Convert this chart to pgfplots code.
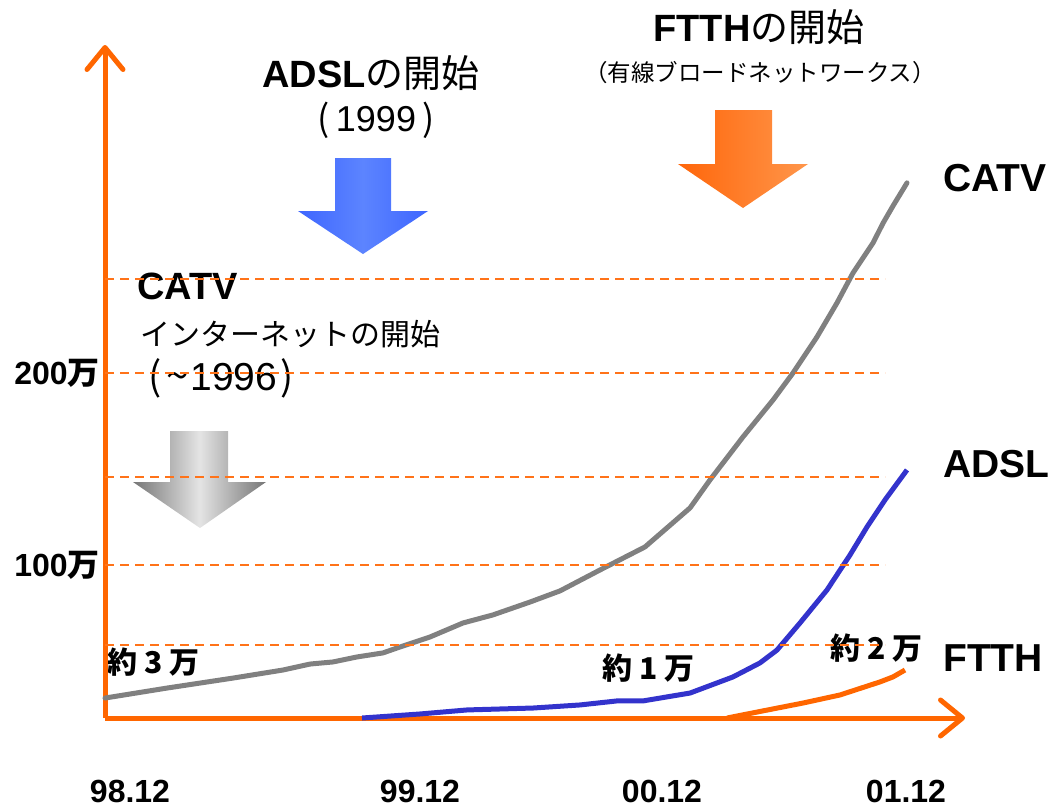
\documentclass[border=0pt]{standalone}
\usepackage{pgfplots}
\pgfplotsset{compat=1.18}
\usepackage{fontspec}
\setmainfont{Liberation Sans}
\newfontfamily\jp{Noto Sans CJK JP}
\usetikzlibrary{arrows.meta}
\definecolor{axorange}{RGB}{255,102,0}
\definecolor{dashorange}{RGB}{255,115,25}
\definecolor{catvgray}{RGB}{128,128,128}
\definecolor{adslblue}{RGB}{51,51,204}
\definecolor{blueedge}{RGB}{62,102,255}
\definecolor{bluemid}{RGB}{92,132,255}
\definecolor{orangeleft}{RGB}{255,102,10}
\definecolor{orangeright}{RGB}{255,150,75}
\definecolor{grayedge}{RGB}{118,118,118}
\definecolor{graymid}{RGB}{228,228,228}
\newcommand{\fs}[1]{\fontsize{#1}{#1}\selectfont}
\begin{document}
\begin{tikzpicture}
\begin{scope}[x=1pt,y=-1pt]
\path (0,0) rectangle (1055,807);
% block arrows
\shade[left color=blueedge, right color=blueedge, middle color=bluemid]
  (335,158) -- (391,158) -- (391,211) -- (428,211) -- (363,254) -- (298,211) -- (335,211) -- cycle;
\shade[left color=orangeleft, right color=orangeright]
  (715,110) -- (772,110) -- (772,164) -- (808,164) -- (743,208) -- (678,164) -- (715,164) -- cycle;
\shade[left color=grayedge, right color=grayedge, middle color=graymid]
  (170,431) -- (228,431) -- (228,482) -- (266,482) -- (200,528) -- (133,482) -- (170,482) -- cycle;
% titles
\node[anchor=center, inner sep=0pt] at (376,120) {\fs{36}{\jp (}\hspace{6pt}1999\hspace{6pt}{\jp )}};
\node[anchor=center, inner sep=0pt] at (371,73) {\fs{38}\bfseries ADSL{\jp\mdseries の開始}};
\node[anchor=center, inner sep=0pt] at (759,27) {\fs{38}\bfseries FTTH{\jp\mdseries の開始}};
\node[anchor=center, inner sep=0pt] at (760,73) {\fs{23.5}\jp （有線ブロードネットワークス）};
\node[anchor=west, inner sep=0pt] at (137,286) {\fs{38}\bfseries CATV};
\node[anchor=west, inner sep=0pt] at (140,334) {\fs{30}\jp インターネットの開始};
\node[anchor=west, inner sep=0pt] at (148,378) {\fs{39}{\jp (}\hspace{5pt}{\jp\fs{40}\char"7E}\hspace{2pt}1996\hspace{3pt}{\jp )}};
% series labels
\node[anchor=west, inner sep=0pt] at (943,178) {\fs{39}\bfseries CATV};
\node[anchor=west, inner sep=0pt] at (943,464) {\fs{39}\bfseries ADSL};
\node[anchor=west, inner sep=0pt] at (943,658) {\fs{39}\bfseries FTTH};
\node[anchor=west, inner sep=0pt] at (107,662) {\fs{30}\jp\bfseries 約 3 万};
\node[anchor=west, inner sep=0pt] at (602,668) {\fs{30}\jp\bfseries 約 1 万};
\node[anchor=west, inner sep=0pt] at (830,648) {\fs{30}\jp\bfseries 約 2 万};
\end{scope}
\begin{axis}[
  at={(105pt,-718pt)}, anchor=south west,
  scale only axis, width=860pt, height=673pt,
  xmin=105, xmax=965, ymin=20.3, ymax=370.8,
  clip=false,
  axis lines=left,
  axis line style={draw=axorange, line width=5pt},
  x axis line style={-{Straight Barb[length=22pt,width=36pt,round]}},
  y axis line style={-{Straight Barb[length=22pt,width=36pt,round]}},
  major tick length=0pt,
  tick style={draw=none},
  xtick={130,420,662,906},
  xticklabels={\mbox{\bfseries 98.12},\mbox{\bfseries 99.12},\mbox{\bfseries 00.12},\mbox{\bfseries 01.12}},
  xticklabel style={anchor=base, inner sep=0pt, yshift=-84pt, font=\fs{32}},
  ytick={100,200},
  yticklabels={\mbox{\bfseries 100{\jp 万}},\mbox{\bfseries 200{\jp 万}}},
  yticklabel style={anchor=east, inner sep=0pt, xshift=-5pt, font=\fs{32}},
]
\addplot[catvgray, line width=5pt, line join=round, line cap=round] coordinates {
 (105,30.7) (167,35.9) (233,41.1) (283,45.3) (310,48.4) (333,49.5) (357,52.1)
 (383,54.2) (400,57.3) (430,62.5) (463,69.8) (493,74.0) (530,80.7) (560,86.5)
 (600,97.4) (645,109.4) (690,129.7) (710,144.3) (743,166.7) (773,185.9)
 (793,200.0) (817,218.8) (837,236.5) (853,252.1) (873,267.7) (883,278.0)
 (893,287.0) (907,299.0)
};
\addplot[adslblue, line width=5pt, line join=round] coordinates {
 (362,20.3) (420,22.4) (467,24.5) (533,25.5) (580,27.1) (617,29.2) (643,29.2)
 (690,33.3) (733,41.7) (760,49.0) (777,55.7) (800,69.8) (827,87.0) (850,105.2)
 (867,119.8) (885,133.9) (907,149.5)
};
\addplot[axorange, line width=5pt, line join=round] coordinates {
 (727,20.3) (757,23.4) (803,28.1) (840,32.3) (880,39.1) (893,41.7) (905,45.3)
};
\draw[dashorange, line width=2pt, dash pattern=on 9pt off 6pt] (axis cs:105,249.0) -- (axis cs:885,249.0);
\draw[dashorange, line width=2pt, dash pattern=on 9pt off 6pt] (axis cs:105,200.0) -- (axis cs:885,200.0);
\draw[dashorange, line width=2pt, dash pattern=on 9pt off 6pt] (axis cs:105,145.8) -- (axis cs:885,145.8);
\draw[dashorange, line width=2pt, dash pattern=on 9pt off 6pt] (axis cs:105,100.0) -- (axis cs:885,100.0);
\draw[dashorange, line width=2pt, dash pattern=on 9pt off 6pt] (axis cs:105,58.3) -- (axis cs:885,58.3);
\end{axis}
\end{tikzpicture}
\end{document}
